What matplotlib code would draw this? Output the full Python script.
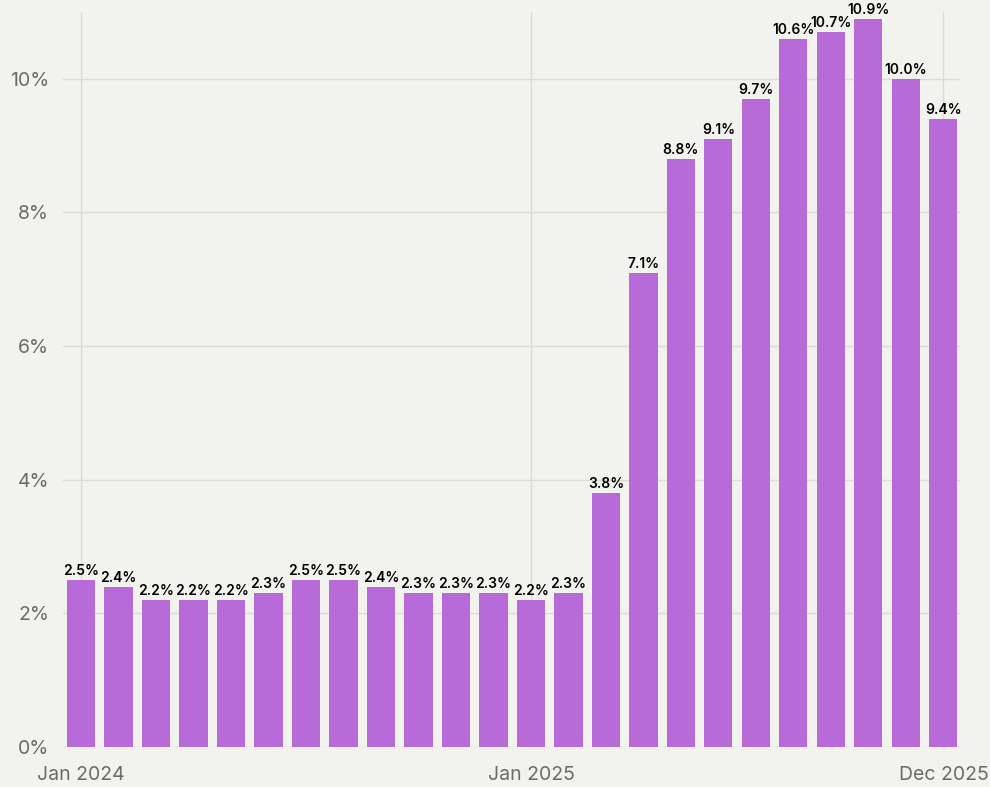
import matplotlib.pyplot as plt
import numpy as np

# monthly values, Jan 2024 .. Dec 2025
months = [f"{m} {y}" for y in (2024, 2025) for m in
          ["Jan", "Feb", "Mar", "Apr", "May", "Jun",
           "Jul", "Aug", "Sep", "Oct", "Nov", "Dec"]]
values = [2.5, 2.4, 2.2, 2.2, 2.2, 2.3, 2.5, 2.5, 2.4, 2.3, 2.3, 2.3,
          2.2, 2.3, 3.8, 7.1, 8.8, 9.1, 9.7, 10.6, 10.7, 10.9, 10.0, 9.4]
shown_ticks = ["Jan 2024", "Jan 2025", "Dec 2025"]
y_ticks = [0, 2, 4, 6, 8, 10]

bg = "#f2f3ee"
bar_color = "#b86ad8"
grid_color = "#dcdcd7"

plt.rcParams['font.family'] = ['Inter', 'DejaVu Sans']

fig = plt.figure(figsize=(9.9, 7.87), dpi=100, facecolor=bg)
ax = fig.add_axes([0.0636, 0.0508, 0.9064, 0.934])
ax.set_facecolor(bg)

x = np.arange(len(values))
ax.bar(x, values, width=0.75, color=bar_color, zorder=2)

for xi, v in zip(x, values):
    ax.text(xi, v + 0.03, f"{v:.1f}%", ha="center", va="bottom",
            fontsize=10, fontweight="semibold", color="#000000",
            clip_on=False, zorder=3)

# gridlines
for yt in y_ticks:
    ax.axhline(yt, color=grid_color, lw=1, zorder=1)
tick_pos = [months.index(t) for t in shown_ticks]
for xp in tick_pos:
    ax.axvline(xp, color=grid_color, lw=1, zorder=1)

ax.set_xlim(-0.48, 23.45)
ax.set_ylim(0, 11)
ax.set_yticks(y_ticks)
ax.set_yticklabels([f"{t}%" for t in y_ticks])
ax.set_xticks(tick_pos)
ax.set_xticklabels(shown_ticks)
ax.tick_params(axis="both", length=0, labelsize=14, labelcolor="#6b6b6b")
ax.tick_params(axis="y", pad=10)
ax.tick_params(axis="x", pad=14)
for s in ax.spines.values():
    s.set_visible(False)

fig.savefig("out.png", dpi=100, facecolor=bg)
